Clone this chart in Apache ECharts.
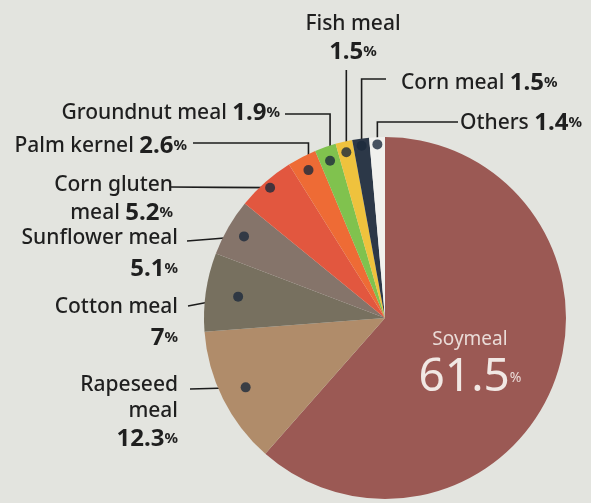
<!DOCTYPE html>
<html>
<head>
<meta charset="utf-8">
<script src="https://cdn.jsdelivr.net/npm/echarts@6/dist/echarts.min.js"></script>
<style>
html,body{margin:0;padding:0;background:#e3e4df;}
#chart{width:591px;height:503px;}
</style>
</head>
<body>
<div id="chart"></div>
<script>
// ---- data ----
const categories = ['Soymeal','Rapeseed meal','Cotton meal','Sunflower meal','Corn gluten meal','Palm kernel','Groundnut meal','Fish meal','Corn meal','Others'];
const shares = [61.5, 12.3, 7, 5.1, 5.2, 2.6, 1.9, 1.5, 1.5, 1.4];
const labelNames = ['Soymeal','Rapeseed\nmeal','Cotton meal','Sunflower meal','Corn gluten\nmeal','Palm kernel','Groundnut meal','Fish meal','Corn meal','Others'];

// ---- styles / layout ----
const colors = ['#9b5954','#b08c6a','#77705f','#85746a','#e2573f','#ee6b35','#80c24e','#efc23d','#2c3848','#f1f1ee'];
const CX = 385, CY = 318, R = 181;
// value placement: 'below' = on new line, 'tall' = new line with extra gap, 'inline' = same line
const layout = [
  {x:470, y:328, align:'center'},
  {x:178, y:372, align:'right', val:'below', end:[190,389], dot:0.86},
  {x:178, y:294, align:'right', val:'tall',  end:[188,306], dot:0.82},
  {x:178, y:225, align:'right', val:'tall',  end:[187,241], dot:0.90},
  {x:173, y:172, align:'right', val:'inline',end:[170,187], dot:0.96},
  {x:187, y:131, align:'right', val:'inline',end:[193,143], dot:0.92, corner:true},
  {x:280, y:98,  align:'right', val:'inline',end:[285,114], dot:0.92, corner:true},
  {x:353, y:11,  align:'center',val:'below', end:null, top:70, dot:0.94},
  {x:401, y:68,  align:'left',  val:'inline',end:[386,79], dot:0.96, corner:true},
  {x:460, y:108, align:'left',  val:'inline',end:[458,122], dot:0.96, corner:true}
];

const total = shares.reduce((a,b)=>a+b,0);
const cumMid = [];
(function(){ let c = 0; shares.forEach(v => { cumMid.push(c + v/2); c += v; }); })();

function dotPixel(i){
  const th = cumMid[i] / total * Math.PI * 2;
  const r = R * layout[i].dot;
  return [CX + r*Math.sin(th), CY - r*Math.cos(th)];
}

function fmt(p){
  const i = p.dataIndex;
  const v = String(shares[i]);
  if (i === 0) return '{sn|' + labelNames[i] + '}\n{sv|' + v + '}{sp|%}';
  const lines = labelNames[i].split('\n').map(s => '{n|' + s + '}');
  const mode = layout[i].val;
  if (mode === 'inline') {
    lines[lines.length-1] = lines[lines.length-1].replace(/\}$/, ' }') + '{v|' + v + '}{p|%}';
  } else if (mode === 'tall') {
    lines.push('{vt|' + v + '}{pt|%}');
  } else {
    lines.push('{v|' + v + '}{p|%}');
  }
  return lines.join('\n');
}

const pieData = categories.map((c,i) => {
  const d = {name:c, value:shares[i], itemStyle:{color:colors[i]}};
  if (i === 0) {
    d.labelLine = {show:false};
    d.label = {position:'inside', overflow:'none'};
  }
  return d;
});
const dotData = categories.map((c,i) => [layout[i].dot || 0, cumMid[i]]).slice(1);

const FONT = '"Noto Sans", "DejaVu Sans", sans-serif';
const INK = '#1f1f1f';
const chart = echarts.init(document.getElementById('chart'), null, {renderer:'canvas'});
chart.setOption({
  backgroundColor:'#e3e4df',
  animation:false,
  polar:{center:[CX,CY], radius:R},
  angleAxis:{type:'value', min:0, max:total, startAngle:90, clockwise:true, show:false},
  radiusAxis:{type:'value', min:0, max:1, show:false},
  series:[
    {
      type:'pie',
      center:[CX,CY],
      radius:[0,R],
      startAngle:90,
      clockwise:true,
      z:2,
      data:pieData,
      label:{
        show:true,
        position:'outside',
        overflow:'none',
        formatter:fmt,
        fontFamily:FONT,
        rich:{
          n:{fontFamily:FONT, fontSize:21, fontWeight:500, color:INK, lineHeight:26},
          v:{fontFamily:FONT, fontSize:24, fontWeight:'bold', color:INK, lineHeight:30},
          p:{fontFamily:FONT, fontSize:15, fontWeight:'bold', color:INK, lineHeight:30},
          vt:{fontFamily:FONT, fontSize:24, fontWeight:'bold', color:INK, lineHeight:36},
          pt:{fontFamily:FONT, fontSize:15, fontWeight:'bold', color:INK, lineHeight:36},
          sn:{fontFamily:FONT, fontSize:19, color:'#eadcd8', lineHeight:24},
          sv:{fontFamily:FONT, fontSize:46, color:'#f1e8e4', lineHeight:52},
          sp:{fontFamily:FONT, fontSize:14, color:'#eadcd8', lineHeight:52}
        }
      },
      labelLine:{show:true, length:0, length2:0, smooth:false, lineStyle:{color:'#1c1c1c', width:1.6}},
      labelLayout:function(p){
        const i = p.dataIndex;
        const c = layout[i];
        const out = {x:c.x, y:c.y, align:c.align, verticalAlign:'top'};
        if (i > 0) {
          const d = dotPixel(i);
          let end = c.end;
          let mid;
          if (!end) {            // straight vertical line
            end = [d[0], c.top];
            mid = [d[0], (d[1]+c.top)/2];
          } else if (c.corner) {
            mid = [d[0], end[1]];
          } else {
            mid = [(d[0]+end[0])/2, (d[1]+end[1])/2];
          }
          out.labelLinePoints = [d, mid, end];
        }
        return out;
      }
    },
    {
      type:'scatter',
      coordinateSystem:'polar',
      z:5,
      symbol:'circle',
      symbolSize:10,
      itemStyle:{color:'#1d2a3c'},
      silent:true,
      data:dotData
    }
  ]
});
</script>
</body>
</html>
